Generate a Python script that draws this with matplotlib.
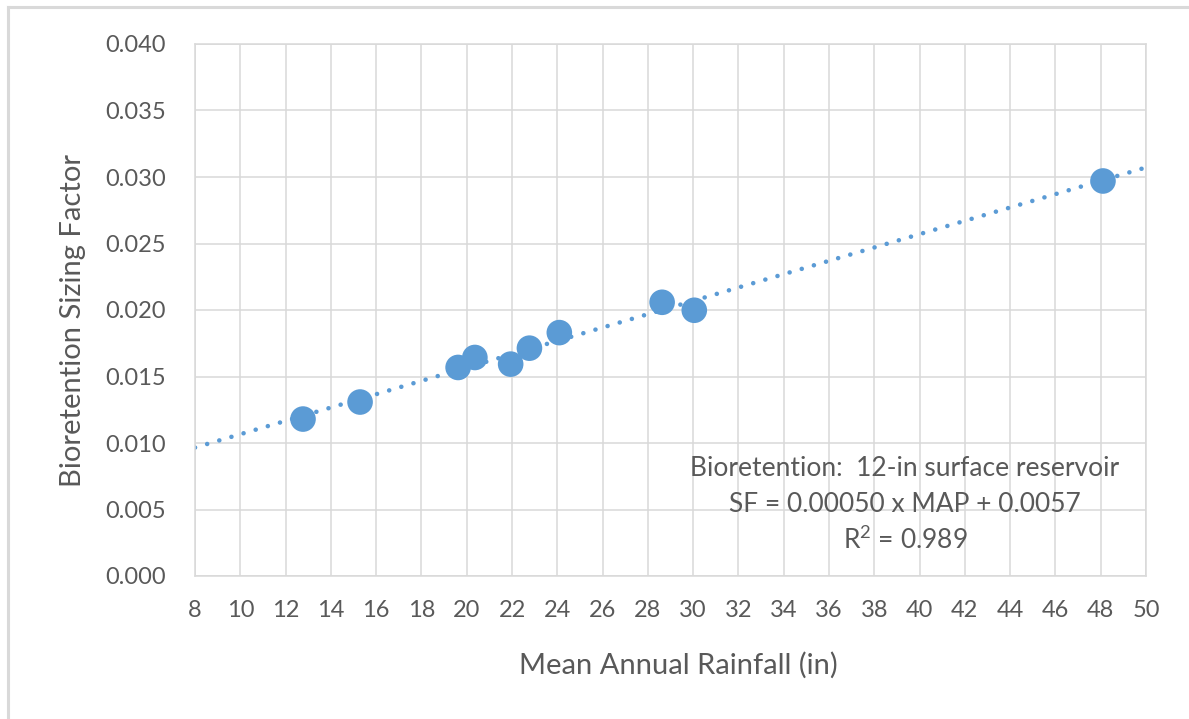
import matplotlib.pyplot as plt
from matplotlib.lines import Line2D
import numpy as np

# mean annual rainfall (in) and sizing factor
rainfall = [12.77, 15.29, 19.62, 20.36, 21.94, 22.77, 24.09, 28.63, 30.05, 48.1]
sizing_factor = [0.0118, 0.01308, 0.01568, 0.01643, 0.01593, 0.01713, 0.0183,
                 0.02058, 0.01998, 0.0297]

x_ticks = list(range(8, 51, 2))
y_ticks = [0.000, 0.005, 0.010, 0.015, 0.020, 0.025, 0.030, 0.035, 0.040]

annotation = ['Bioretention:  12-in surface reservoir',
              'SF = 0.00050 x MAP + 0.0057',
              'R$^2$ = 0.989']

BLUE = '#5B9BD5'
GRID = '#D9D9D9'
TEXT = '#595959'

plt.rcParams['font.family'] = ['Lato', 'DejaVu Sans']
plt.rcParams['mathtext.fontset'] = 'custom'
plt.rcParams['mathtext.rm'] = 'Lato'

W, H = 1189, 719
fig = plt.figure(figsize=(W / 100, H / 100), dpi=100)
fig.patch.set_facecolor('white')

# outer chart border (only top and left visible in the screenshot)
fig.add_artist(Line2D([8 / W, 8 / W], [0, 1 - 7 / H], transform=fig.transFigure,
                      color=GRID, lw=2.2))
fig.add_artist(Line2D([8 / W, 1], [1 - 7 / H, 1 - 7 / H], transform=fig.transFigure,
                      color=GRID, lw=2.2))

left, right, top, bottom = 195, 1146, 44, 576
ax = fig.add_axes([left / W, 1 - bottom / H, (right - left) / W, (bottom - top) / H])

ax.set_xlim(8, 50)
ax.set_ylim(0, 0.04)
ax.set_xticks(x_ticks)
ax.set_yticks(y_ticks)
ax.set_yticklabels([f'{v:.3f}' for v in y_ticks])
ax.tick_params(length=0, labelsize=17, labelcolor=TEXT)
ax.tick_params(axis='y', pad=21)
ax.tick_params(axis='x', pad=17)
ax.grid(True, color=GRID, lw=1.1)
ax.set_axisbelow(True)
for s in ax.spines.values():
    s.set_color(GRID)
    s.set_linewidth(1.1)

# trendline from least squares fit
slope, intercept = np.polyfit(rainfall, sizing_factor, 1)
xs = np.array([8, 50])
ax.plot(xs, slope * xs + intercept, color=BLUE, lw=3.3,
        linestyle=(0, (0.01, 2.75)), dash_capstyle='round', zorder=2)

ax.scatter(rainfall, sizing_factor, s=340, color=BLUE, edgecolors='none', zorder=3)

ax.set_xlabel('Mean Annual Rainfall (in)', fontsize=21, color=TEXT)
ax.set_ylabel('Bioretention Sizing Factor', fontsize=21, color=TEXT)
ax.xaxis.set_label_coords((678 - left) / (right - left), -(652 - bottom) / (bottom - top))
ax.yaxis.set_label_coords(-(195 - 86) / (right - left), 0.48)

for i, line in enumerate(annotation):
    fig.text(905 / W, 1 - (469 + 35.5 * i) / H, line, ha='center', va='center',
             fontsize=19, color=TEXT)

fig.savefig('out.png', dpi=100)
